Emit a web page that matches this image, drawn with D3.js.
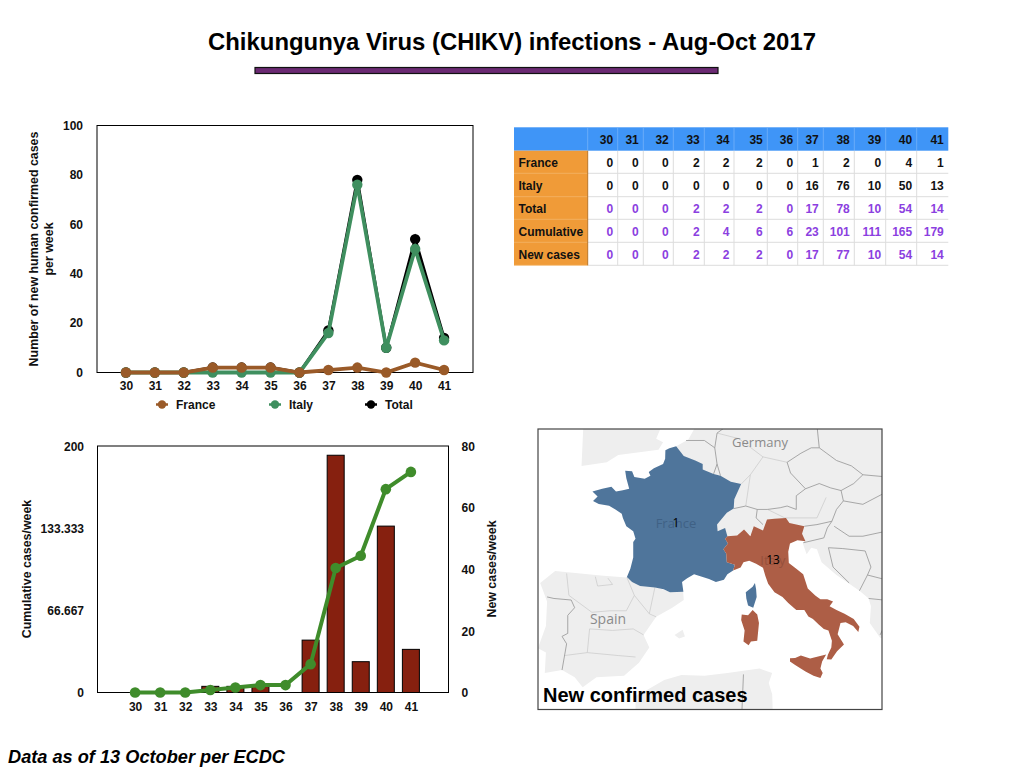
<!DOCTYPE html>
<html>
<head>
<meta charset="utf-8">
<title>CHIKV infections</title>
<script src="https://cdn.jsdelivr.net/npm/d3@7"></script>
<style>
html,body{margin:0;padding:0;background:#fff;}
svg{display:block;}
text{font-family:"Liberation Sans",Arial,sans-serif;fill:#111;}
</style>
</head>
<body>
<svg id="page" width="1024" height="768"></svg>
<script>
var weeks=[30,31,32,33,34,35,36,37,38,39,40,41];
var france=[0,0,0,2,2,2,0,1,2,0,4,1];
var italy=[0,0,0,0,0,0,0,16,76,10,50,13];
var total=[0,0,0,2,2,2,0,17,78,10,54,14];
var cumulative=[0,0,0,2,4,6,6,23,101,111,165,179];
var newCases=[0,0,0,2,2,2,0,17,77,10,54,14];
var tableRows=["France","Italy","Total","Cumulative","New cases"];
var cumulativeTicks=[0,66.667,133.333,200];
var newCaseTicks=[0,20,40,60,80];
var weeklyTicks=[0,20,40,60,80,100];

// map outlines, lon/lat
var franceShape=[[2.54,51.09],[1.95,50.98],[1.6,50.87],[1.58,50.4],[1.4,50.1],[0.6,49.87],[0.15,49.65],[0.3,49.45],[-0.2,49.28],[-1.1,49.38],[-1.3,49.7],[-1.9,49.72],[-1.8,49.3],[-1.55,48.7],[-2.1,48.62],[-2.7,48.55],[-3.1,48.82],[-3.9,48.7],[-4.75,48.55],[-4.3,48.25],[-4.7,48],[-4.2,47.82],[-3.3,47.72],[-2.75,47.5],[-2.2,47.25],[-2.1,47],[-1.8,46.5],[-1.2,46.2],[-1,45.75],[-1.2,45.55],[-1.2,44.6],[-1.45,43.9],[-1.75,43.38],[-1.3,43.05],[-0.6,42.8],[0.7,42.7],[1.45,42.6],[2,42.4],[3.17,42.43],[3.05,43.05],[3.5,43.3],[4.1,43.55],[4.85,43.38],[5.4,43.25],[6,43.05],[6.7,43.2],[7,43.55],[7.5,43.78],[7.65,44.15],[6.95,44.3],[6.9,44.85],[6.65,45.1],[7.05,45.45],[6.8,45.75],[7,45.9],[6.8,46.4],[6.15,46.2],[6.1,46.6],[6.95,47.3],[7.55,47.55],[7.6,48.1],[8.2,48.97],[7.3,49.1],[6.4,49.45],[5.8,49.55],[4.85,49.8],[4.85,50.1],[4.2,50.3],[3.2,50.55]];
var corsicaShape=[[9.4,43],[9.5,42.6],[9.55,42.1],[9.25,41.4],[8.8,41.55],[8.65,42],[8.6,42.4],[9.2,42.75]];
var italyShape=[[7.5,43.78],[8.15,43.98],[8.4,44.3],[8.9,44.4],[9.5,44.2],[10.1,43.95],[10.3,43.45],[10.55,42.95],[11.1,42.4],[11.8,42.1],[12.3,41.7],[13,41.25],[13.7,41.25],[14.05,40.82],[14.45,40.65],[14.95,40.3],[15.4,40],[15.8,39.9],[16.1,39.2],[16.05,38.75],[15.75,38.25],[15.65,37.95],[16.05,37.93],[16.55,38.5],[17.15,38.95],[16.6,39.65],[16.85,40.4],[17.3,40.45],[17.95,40.2],[18.4,39.8],[18.5,40.15],[18,40.65],[17.2,41],[16.5,41.25],[15.9,41.5],[16.2,41.8],[15.7,41.95],[15.1,41.95],[14.65,42.2],[14,42.65],[13.6,43.55],[13,43.9],[12.35,44.25],[12.3,44.95],[12.45,45.45],[13.1,45.65],[13.8,45.6],[13.5,46.05],[13.7,46.5],[12.4,46.7],[12.1,47],[11.1,46.95],[10.45,46.9],[10.1,46.25],[9.3,46.5],[9,45.9],[8.45,46.3],[7.85,45.95],[7,45.9],[6.8,45.75],[7.05,45.45],[6.65,45.1],[6.9,44.85],[6.95,44.3],[7.65,44.15]];
var sardiniaShape=[[9.2,41.25],[9.6,40.95],[9.75,40.4],[9.6,39.2],[9.05,39.15],[8.85,38.9],[8.4,39.15],[8.5,39.9],[8.2,40.6],[8.25,40.95],[8.8,40.9]];
var sicilyShape=[[12.45,38.02],[12.9,38.03],[13.4,38.2],[14.2,38],[15.6,38.28],[15.25,37.8],[15.1,37.3],[15.3,37],[15.1,36.65],[14.5,36.8],[13.8,37.1],[12.9,37.55],[12.45,37.8]];
var centralLand=[[2.54,51.09],[3.6,51.45],[4.1,52],[4.5,52.8],[23,52.8],[23,39.3],[20.3,39.4],[19.4,40.4],[19.5,41.5],[19.3,42],[18.5,42.5],[16.5,43.5],[15.2,44.3],[14.8,45.1],[14.3,45.2],[13.9,44.8],[13.6,45.4],[13.7,45.65],[13,46],[8,46],[7,44],[5,44]];
var spainLand=[[-9.3,43],[-8,43.75],[-5.8,43.6],[-3.8,43.45],[-1.75,43.35],[-0.5,42.8],[0.7,42.75],[1.7,42.5],[3.15,42.45],[3.2,41.9],[2.2,41.4],[0.8,40.8],[-0.3,39.6],[0.2,38.75],[-0.7,37.7],[-2,36.8],[-4.4,36.7],[-5.6,36],[-6.3,36.7],[-7.4,37.2],[-8.9,37],[-8.8,38.4],[-9.5,38.7],[-8.8,40.2],[-8.7,41.8]];
var englandLand=[[-5.7,50],[-3.5,50.2],[-2.5,50.6],[1,50.9],[1.4,51.3],[0.8,51.5],[1.7,52.8],[-5.5,52.8]];
var africaLand=[[-1,33],[-1,35.4],[0,35.8],[1.5,36.5],[3,36.85],[5,36.8],[7,37],[9.8,37.3],[10.9,37],[10.6,36.3],[10.9,35.5],[11,33]];
var balearicLand=[[2.4,39.6],[3.1,39.95],[3.3,39.5],[2.8,39.35]];
var borderLines=[
 [[3.4,51.4],[5,51.4],[5.9,51],[6.1,50.1],[5.8,49.55]],
 [[7,52.8],[7,52.2],[6.1,51.8],[5.9,51]],
 [[6.1,50.1],[6.4,49.45]],
 [[7.55,47.55],[8.6,47.7],[9.6,47.5],[10.5,47.5],[11.6,47.6],[12.2,47.7],[13,47.5],[13,48.3],[13.8,48.7],[12.5,49.6],[12.2,50.2],[13.4,50.7],[14.3,51],[15,51],[14.7,52.8]],
 [[13.8,48.7],[15,49],[16,48.75],[16.9,48.6],[18,49],[18.8,49.5]],
 [[15,51],[16.5,50.3],[17.8,50],[18.8,49.5],[20.5,49.4],[22.5,49.1]],
 [[16.9,48.6],[17.1,48],[16.5,47.5],[16.1,46.8],[14.8,46.6],[13.7,46.5]],
 [[17.1,48],[18.8,47.8],[20.8,48.5],[22.5,48.3]],
 [[13.6,45.5],[15.4,45.8],[15.7,46.4],[16.1,46.8]],
 [[16.3,46.5],[17.6,45.9],[18.8,45.9],[20.8,46.2]],
 [[15.8,45.2],[17,45.15],[19,45],[19.5,44],[19.2,43.5],[18.5,42.5]],
 [[15.8,45.2],[16.2,44],[17.6,43]],
 [[19.2,43.5],[20.8,43.2],[22,42.3]],
 [[19.3,42],[20.6,41.9],[20.5,40.8],[20.8,40.4],[20.3,39.6]],
 [[9.6,47.5],[9.5,47],[10.1,46.6]],
 [[-8.7,42.1],[-8.1,42],[-6.6,41.9],[-6.3,41.4],[-6.9,40.9],[-6.9,39.7],[-7.4,39.5],[-7,39],[-7.4,37.2]],
 [[8.4,36.9],[8.2,33]]
];
var regionLines=[
 [[-7,43.6],[-6.8,42.2],[-4.8,41.1],[-3.2,41.2],[-1.8,41.2],[-1.1,42.2],[-1.75,43.35]],
 [[-4.5,43.4],[-4.3,42.8],[-3,42.9],[-3.4,43.3]],
 [[0.7,42.75],[0.2,41],[0.8,40.8]],
 [[-1.1,42.2],[0.2,41]],
 [[-5,40],[-3,39.9],[-1.2,40],[-0.3,39.6]],
 [[-7.2,38.2],[-5.2,38.4],[-2.5,38.2],[-1,38.1]],
 [[-5,40],[-5.2,38.4]],
 [[9,49.5],[8.2,48.97]],[[10.1,50.5],[12.2,50.2]],[[8.6,47.7],[9,49.5],[10.1,50.5],[8,51.5],[6.1,51.8]],
 [[14.8,47],[15.6,48.2]],[[10.5,47.5],[12,47],[14.8,47]]
];

var svg=d3.select("#page");

// title
svg.append("text").attr("x",512).attr("y",50).attr("text-anchor","middle")
	.style("font-size","23.9px").style("font-weight","bold").style("fill","#000")
	.text("Chikungunya Virus (CHIKV) infections - Aug-Oct 2017");
svg.append("rect").attr("x",255).attr("y",67.5).attr("width",463).attr("height",6)
	.attr("fill","#6b2a73").attr("stroke","#111").attr("stroke-width",1.2);

svg.append("text").attr("x",8).attr("y",763)
	.style("font-size","18.2px").style("font-weight","bold").style("font-style","italic").style("fill","#000")
	.text("Data as of 13 October per ECDC");

function styleAxis(g,size) {
	g.select(".domain").remove();
	g.selectAll("line").remove();
	g.selectAll("text").style("font-size",size).style("font-weight","bold").style("font-family",'"Liberation Sans",Arial,sans-serif');
}

function axisTitle(x,y,label) {
	svg.append("text").attr("transform","translate("+x+","+y+") rotate(-90)")
		.attr("text-anchor","middle").style("font-size","12.4px").style("font-weight","bold")
		.text(label);
}

/* ---- weekly cases line chart ---- */
var lineBox={left:97,right:473,top:125.5,bottom:372.5};
var lineX=d3.scalePoint().domain(weeks).range([lineBox.left,lineBox.right]).padding(1);
var lineY=d3.scaleLinear().domain([0,100]).range([lineBox.bottom,lineBox.top]);

svg.append("rect").attr("x",lineBox.left).attr("y",lineBox.top)
	.attr("width",lineBox.right-lineBox.left).attr("height",lineBox.bottom-lineBox.top)
	.attr("fill","#fff").attr("stroke","#000").attr("stroke-width",1);

svg.append("g").attr("transform","translate("+lineBox.left+",0)")
	.call(d3.axisLeft(lineY).tickValues(weeklyTicks).tickSize(0).tickPadding(14))
	.call(styleAxis,"12px");
svg.append("g").attr("transform","translate(0,"+lineBox.bottom+")")
	.call(d3.axisBottom(lineX).tickSize(0).tickPadding(9))
	.call(styleAxis,"12px");

axisTitle(38,249,"Number of new human confirmed cases");
axisTitle(53,249,"per week");

var weeklySeries=[
	{name:"Total",values:total,color:"#000",lx:371},
	{name:"Italy",values:italy,color:"#3f8f5f",lx:275},
	{name:"France",values:france,color:"#9a5a28",lx:162}
];
var weeklyLine=d3.line().x(function(d,i){return lineX(weeks[i]);}).y(function(d){return lineY(d);});

weeklySeries.forEach(function(s) {
	var g=svg.append("g");
	g.append("path").attr("d",weeklyLine(s.values)).attr("fill","none")
		.attr("stroke",s.color).attr("stroke-width",s.name=="Total"?3:3.8);
	g.selectAll("circle").data(s.values).enter().append("circle")
		.attr("cx",function(d,i){return lineX(weeks[i]);})
		.attr("cy",function(d){return lineY(d);})
		.attr("r",5.2).attr("fill",s.color);
	// legend
	var lg=svg.append("g").attr("transform","translate("+s.lx+",404.5)");
	lg.append("line").attr("x1",-6).attr("x2",6).attr("stroke",s.color).attr("stroke-width",2.5);
	lg.append("circle").attr("r",4.2).attr("fill",s.color);
	lg.append("text").attr("x",14).attr("y",4.5).style("font-size","12px").style("font-weight","bold").text(s.name);
});

/* ---- cumulative + new cases combo chart ---- */
var comboBox={left:97.5,right:448.5,top:446,bottom:692.5};
var comboX=d3.scalePoint().domain(weeks).range([comboBox.left,comboBox.right]).padding(1.5);
var cumY=d3.scaleLinear().domain([0,200]).range([comboBox.bottom,comboBox.top]);
var newY=d3.scaleLinear().domain([0,80]).range([comboBox.bottom,comboBox.top]);

svg.append("rect").attr("x",comboBox.left).attr("y",comboBox.top)
	.attr("width",comboBox.right-comboBox.left).attr("height",comboBox.bottom-comboBox.top)
	.attr("fill","#fff").attr("stroke","#000").attr("stroke-width",1);

svg.selectAll("rect.bar").data(newCases).enter().append("rect").attr("class","bar")
	.attr("x",function(d,i){return comboX(weeks[i])-8.5;})
	.attr("y",function(d){return newY(d);})
	.attr("width",17)
	.attr("height",function(d){return comboBox.bottom-newY(d);})
	.attr("fill","#86200f").attr("stroke","#000").attr("stroke-width",d=>d>0?1:0);

var cumLine=d3.line().x(function(d,i){return comboX(weeks[i]);}).y(function(d){return cumY(d);});
svg.append("path").attr("d",cumLine(cumulative)).attr("fill","none").attr("stroke","#3f8c2b").attr("stroke-width",4);
svg.selectAll("circle.cum").data(cumulative).enter().append("circle").attr("class","cum")
	.attr("cx",function(d,i){return comboX(weeks[i]);})
	.attr("cy",function(d){return cumY(d);})
	.attr("r",5.3).attr("fill","#3f8c2b");

svg.append("g").attr("transform","translate("+comboBox.left+",0.5)")
	.call(d3.axisLeft(cumY).tickValues(cumulativeTicks).tickFormat(function(d){return d;}).tickSize(0).tickPadding(13.5))
	.call(styleAxis,"12px");
svg.append("g").attr("transform","translate("+comboBox.right+",0.5)")
	.call(d3.axisRight(newY).tickValues(newCaseTicks).tickSize(0).tickPadding(13))
	.call(styleAxis,"12px");
svg.append("g").attr("transform","translate(0,"+comboBox.bottom+")")
	.call(d3.axisBottom(comboX).tickSize(0).tickPadding(9.5))
	.call(styleAxis,"12px");

axisTitle(31,569,"Cumulative cases/week");
axisTitle(496,569,"New cases/week");

/* ---- data table ---- */
var colEdges=[514,587.7,617.7,643.3,673.3,704.3,734,767.3,797.7,823.3,854.3,885.7,916.7,948.3];
var rowEdges=[127.3,150.7,173.3,196.7,219.3,242.3,265.3];
var tableValues=[france,italy,total,cumulative,newCases];
var table=svg.append("g");

table.append("rect").attr("x",colEdges[0]).attr("y",rowEdges[0])
	.attr("width",colEdges[13]-colEdges[0]).attr("height",rowEdges[1]-rowEdges[0]).attr("fill","#3f95f7");
table.append("rect").attr("x",colEdges[0]).attr("y",rowEdges[1])
	.attr("width",colEdges[1]-colEdges[0]).attr("height",rowEdges[6]-rowEdges[1]).attr("fill","#f09b38");
// grid
rowEdges.slice(2).forEach(function(y) {
	table.append("line").attr("x1",colEdges[1]).attr("x2",colEdges[13]).attr("y1",y).attr("y2",y).attr("stroke","#ddd");
	table.append("line").attr("x1",colEdges[0]).attr("x2",colEdges[1]).attr("y1",y).attr("y2",y).attr("stroke","#f5b870").attr("stroke-width",0.7);
});
colEdges.slice(2,13).forEach(function(x) {
	table.append("line").attr("x1",x).attr("x2",x).attr("y1",rowEdges[1]).attr("y2",rowEdges[6]).attr("stroke","#ddd");
	table.append("line").attr("x1",x).attr("x2",x).attr("y1",rowEdges[0]).attr("y2",rowEdges[1]).attr("stroke","#7db6f9").attr("stroke-width",0.7);
});
table.append("line").attr("x1",colEdges[1]).attr("x2",colEdges[1]).attr("y1",rowEdges[1]).attr("y2",rowEdges[6]).attr("stroke","#b9772a").attr("stroke-width",1);
table.append("line").attr("x1",colEdges[1]).attr("x2",colEdges[1]).attr("y1",rowEdges[0]).attr("y2",rowEdges[1]).attr("stroke","#7db6f9").attr("stroke-width",0.7);

table.selectAll("text.head").data(weeks).enter().append("text").attr("class","head")
	.attr("x",function(d,i){return colEdges[i+2]-4.5;})
	.attr("y",rowEdges[0]+16.3).attr("text-anchor","end")
	.style("font-size","12px").style("font-weight","bold").text(function(d){return d;});

tableRows.forEach(function(name,r) {
	var y=(rowEdges[r+1]+rowEdges[r+2])/2+5;
	table.append("text").attr("x",colEdges[0]+4.5).attr("y",y)
		.style("font-size","12px").style("font-weight","bold").text(name);
	table.selectAll("text.row"+r).data(tableValues[r]).enter().append("text").attr("class","row"+r)
		.attr("x",function(d,i){return colEdges[i+2]-4.5;})
		.attr("y",y).attr("text-anchor","end")
		.style("font-size","12px").style("font-weight","bold")
		.style("fill",r<2?"#111":"#8b40e0")
		.text(function(d){return d;});
});

/* ---- map ---- */
var mapBox={left:538,right:882,top:429,bottom:709.5};
var projection=d3.geoMercator().center([0,48.4]).scale(658).translate([647,494]);
var ringPath=function(ring){return d3.line()(ring.map(projection))+"Z";};
var openPath=function(ring){return d3.line()(ring.map(projection));};

svg.append("clipPath").attr("id","mapClip").append("rect")
	.attr("x",mapBox.left).attr("y",mapBox.top)
	.attr("width",mapBox.right-mapBox.left).attr("height",mapBox.bottom-mapBox.top);
var map=svg.append("g").attr("clip-path","url(#mapClip)");
map.append("rect").attr("x",mapBox.left).attr("y",mapBox.top)
	.attr("width",mapBox.right-mapBox.left).attr("height",mapBox.bottom-mapBox.top).attr("fill","#fff");

map.selectAll("path.land").data([centralLand,spainLand,englandLand,africaLand,balearicLand]).enter().append("path").attr("class","land")
	.attr("d",ringPath).attr("fill","#eeeeee");
map.selectAll("path.region").data(regionLines).enter().append("path").attr("class","region")
	.attr("d",openPath).attr("fill","none").attr("stroke","#c9c9c9").attr("stroke-width",0.7);
map.selectAll("path.border").data(borderLines).enter().append("path").attr("class","border")
	.attr("d",openPath).attr("fill","none").attr("stroke","#949494").attr("stroke-width",0.8);
map.selectAll("path.fr").data([franceShape,corsicaShape]).enter().append("path").attr("class","fr")
	.attr("d",ringPath).attr("fill","#4f759b");
map.selectAll("path.it").data([italyShape,sardiniaShape,sicilyShape]).enter().append("path").attr("class","it")
	.attr("d",ringPath).attr("fill","#ad5e46");

function mapLabel(x,y,label,size,color,weight) {
	map.append("text").attr("x",x).attr("y",y).attr("text-anchor","middle")
		.style("font-family",'"Open Sans",sans-serif').style("font-size",size).style("fill",color).style("font-weight",weight||"normal").text(label);
}
mapLabel(760,447,"Germany","13px","#8a8a8a");
mapLabel(608,624,"Spain","14px","#8a8a8a");
mapLabel(676,528,"France","13px","#3f6185");
mapLabel(773,565,"Italy","13px","#96503c");
mapLabel(676,527,france[france.length-1],"12px","#000");
mapLabel(773,564,italy[italy.length-1],"12px","#000");
map.append("text").attr("x",543).attr("y",702)
	.style("font-size","20px").style("font-weight","bold").style("fill","#000").text("New confirmed cases");

svg.append("rect").attr("x",mapBox.left).attr("y",mapBox.top)
	.attr("width",mapBox.right-mapBox.left).attr("height",mapBox.bottom-mapBox.top)
	.attr("fill","none").attr("stroke","#444").attr("stroke-width",1.2);
</script>
</body>
</html>
